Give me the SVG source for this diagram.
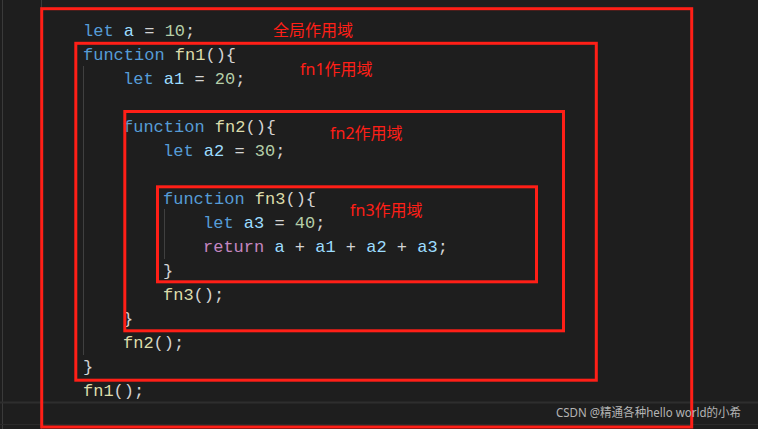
<svg xmlns="http://www.w3.org/2000/svg" width="758" height="429" viewBox="0 0 758 429">
<style>
.code{font-family:"Liberation Mono","DejaVu Sans Mono",monospace;font-size:17px;white-space:pre;fill:#d4d4d4}
.k{fill:#569cd6}.v{fill:#9cdcfe}.n{fill:#b5cea8}.f{fill:#dcdcaa}.p{fill:#d4d4d4}.r{fill:#c586c0}.b{fill:#d4d4d4}
.scope{fill:none;stroke:#ff1f17;stroke-width:3}
.lbl{font-family:"Noto Sans","Noto Sans CJK SC",sans-serif;font-size:16px;fill:#ff1f17}
.guide{stroke:#404040;stroke-width:1}
</style>
<rect width="758" height="429" fill="#1e1e1e"/>
<g id="editor-chrome">
<line x1="2.5" y1="0" x2="2.5" y2="429" stroke="#3a3a3a"/>
<line x1="41.5" y1="0" x2="41.5" y2="429" stroke="#3a3a3a"/>
<line x1="0" y1="402.5" x2="758" y2="402.5" stroke="#2e2e2e" stroke-width="2"/>
<line x1="0" y1="424.5" x2="758" y2="424.5" stroke="#2a2a2a"/>
<line class="guide" x1="83.5" y1="66" x2="83.5" y2="355"/>
<line class="guide" x1="164.5" y1="209" x2="164.5" y2="259"/>
</g>
<g id="code" class="code" xml:space="preserve">
<text x="83" y="35.5"><tspan class="k">let</tspan> <tspan class="v">a</tspan> = <tspan class="n">10</tspan>;</text>
<text x="83" y="59.5"><tspan class="k">function</tspan> <tspan class="f">fn1</tspan>(){</text>
<text x="123" y="83.5"><tspan class="k">let</tspan> <tspan class="v">a1</tspan> = <tspan class="n">20</tspan>;</text>
<text x="123" y="131.5"><tspan class="k">function</tspan> <tspan class="f">fn2</tspan>(){</text>
<text x="163" y="155.5"><tspan class="k">let</tspan> <tspan class="v">a2</tspan> = <tspan class="n">30</tspan>;</text>
<text x="163" y="203.5"><tspan class="k">function</tspan> <tspan class="f">fn3</tspan>(){</text>
<text x="203" y="227.5"><tspan class="k">let</tspan> <tspan class="v">a3</tspan> = <tspan class="n">40</tspan>;</text>
<text x="203" y="251.5"><tspan class="r">return</tspan> <tspan class="v">a</tspan> + <tspan class="v">a1</tspan> + <tspan class="v">a2</tspan> + <tspan class="v">a3</tspan>;</text>
<text x="163" y="275.5">}</text>
<text x="163" y="299.5"><tspan class="f">fn3</tspan>();</text>
<text x="123" y="323.5">}</text>
<text x="123" y="347.5"><tspan class="f">fn2</tspan>();</text>
<text x="83" y="371.5">}</text>
<text x="83" y="395.5"><tspan class="f">fn1</tspan>();</text>
</g>
<g id="global-scope">
<rect class="scope" x="41.7" y="8.7" width="650" height="418.3"/>
<text class="lbl" x="273" y="36">全局作用域</text>
</g>
<g id="fn1-scope">
<rect class="scope" x="75.8" y="43.3" width="520.5" height="336.9"/>
<text class="lbl" x="300" y="75">fn1作用域</text>
</g>
<g id="fn2-scope">
<rect class="scope" x="124.8" y="111.5" width="438.7" height="219.3"/>
<text class="lbl" x="330" y="139">fn2作用域</text>
</g>
<g id="fn3-scope">
<rect class="scope" x="157.5" y="186.8" width="379" height="95"/>
<text class="lbl" x="350" y="216">fn3作用域</text>
</g>
<g id="watermark">
<text x="556" y="417" font-family="Noto Sans, Noto Sans CJK SC, sans-serif" font-size="12" fill="#b4b4b4" textLength="185" lengthAdjust="spacingAndGlyphs">CSDN @精通各种hello world的小希</text>
</g>
</svg>
